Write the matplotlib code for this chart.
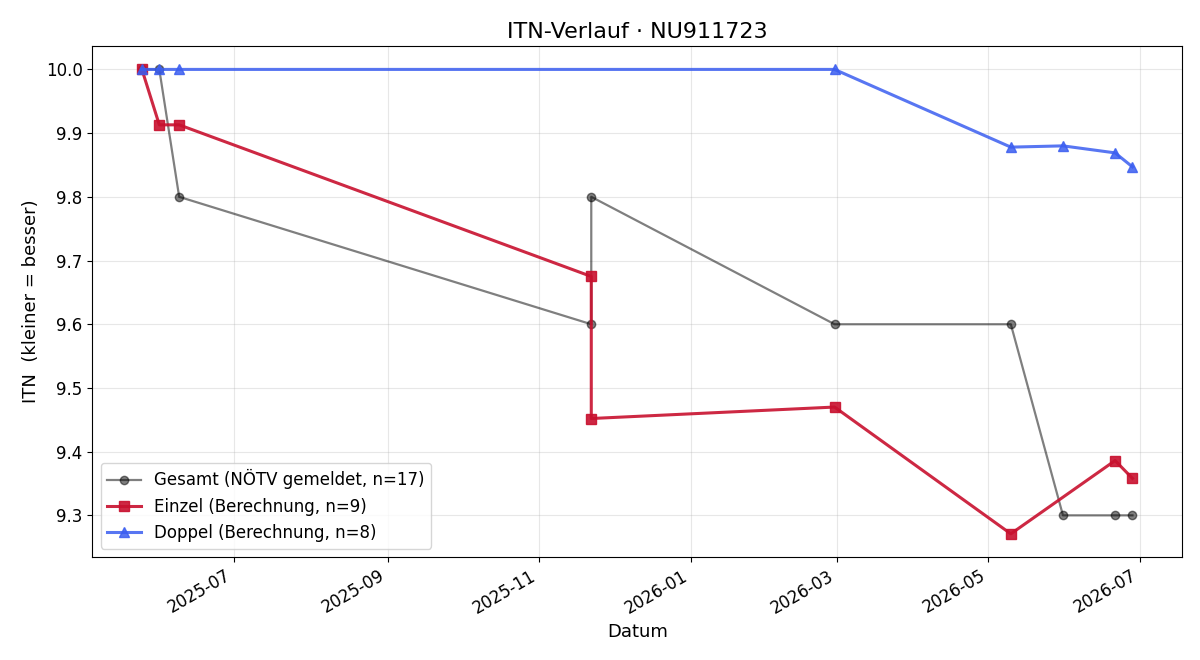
import matplotlib
matplotlib.use("Agg")
import matplotlib.pyplot as plt
import numpy as np
import pandas as pd

# Gesamt (NÖTV gemeldet)
gesamt_dates = ["2025-05-25", "2025-06-01", "2025-06-09", "2025-11-22", "2025-11-22",
                "2026-02-28", "2026-05-10", "2026-05-31", "2026-06-21", "2026-06-28"]
gesamt_itn = [10.0, 10.0, 9.8, 9.6, 9.8, 9.6, 9.6, 9.3, 9.3, 9.3]

# Einzel (Berechnung)
einzel_dates = ["2025-05-25", "2025-06-01", "2025-06-09", "2025-11-22", "2025-11-22",
                "2026-02-28", "2026-05-10", "2026-06-21", "2026-06-28"]
einzel_itn = [10.0, 9.913, 9.913, 9.675, 9.452, 9.470, 9.271, 9.386, 9.358]

# Doppel (Berechnung)
doppel_dates = ["2025-05-25", "2025-06-01", "2025-06-09", "2026-02-28",
                "2026-05-10", "2026-05-31", "2026-06-21", "2026-06-28"]
doppel_itn = [10.0, 10.0, 10.0, 10.0, 9.878, 9.880, 9.869, 9.847]

fig, ax = plt.subplots(figsize=(12, 6.6), dpi=100)

ax.plot(pd.to_datetime(gesamt_dates), gesamt_itn, marker="o", markersize=6,
        linewidth=1.6, color="black", alpha=0.5,
        label="Gesamt (NÖTV gemeldet, n=17)")
ax.plot(pd.to_datetime(einzel_dates), einzel_itn, marker="s", markersize=7.5,
        linewidth=2.2, color="#c8102e", alpha=0.9,
        label="Einzel (Berechnung, n=9)")
ax.plot(pd.to_datetime(doppel_dates), doppel_itn, marker="^", markersize=7.5,
        linewidth=2.2, color="#3b5ef0", alpha=0.85,
        label="Doppel (Berechnung, n=8)")

ax.set_title("ITN-Verlauf · NU911723", fontsize=16)
ax.set_xlabel("Datum", fontsize=13)
ax.set_ylabel("ITN  (kleiner = besser)", fontsize=13)
ax.tick_params(labelsize=12)
ax.grid(True, alpha=0.3)
ax.legend(loc="lower left", fontsize=12)
fig.autofmt_xdate()
fig.subplots_adjust(left=0.077, right=0.985, top=0.930, bottom=0.156)
fig.savefig("out.png")
